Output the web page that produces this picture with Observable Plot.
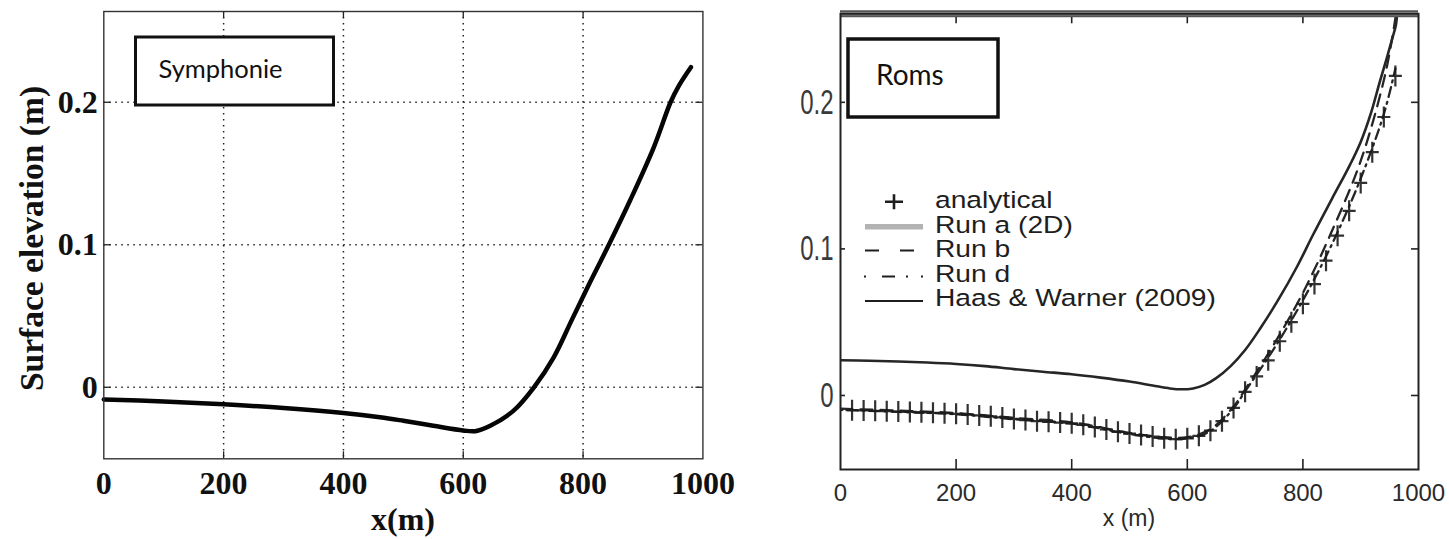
<!DOCTYPE html>
<html><head><meta charset="utf-8">
<script src="https://cdn.jsdelivr.net/npm/d3@7"></script>
<script src="https://cdn.jsdelivr.net/npm/@observablehq/plot@0.6"></script>
<style>
html,body{margin:0;padding:0;background:#fff;}
#wrap{position:relative;width:1449px;height:539px;overflow:hidden;background:#fff;}
#left,#right,#ann{position:absolute;top:0;}
#left{left:0;} #right{left:720px;} #ann{left:0;pointer-events:none;}
</style></head>
<body><div id="wrap"><div id="left"></div><div id="right"></div><svg id="ann" width="1449" height="539"></svg></div>
<script>
// ---------- tick values / labels ----------
const xTicks = [0, 200, 400, 600, 800, 1000];
const xTickLabels = ["0", "200", "400", "600", "800", "1000"];
const xInner = [200, 400, 600, 800];
const yTicks = [0, 0.1, 0.2];
const yTickLabels = ["0", "0.1", "0.2"];

// ---------- left panel: Symphonie ----------
const symX = [0, 100, 200, 300, 400, 461, 500, 550, 600, 620, 645, 684, 718, 751, 782, 812, 843, 879, 918, 946, 960, 980];
const symY = [-0.0085, -0.0100, -0.0120, -0.0145, -0.0180, -0.0210, -0.0235, -0.0270, -0.0303, -0.0308, -0.0270, -0.0164, 0.0000, 0.0210, 0.0480, 0.0740, 0.1000, 0.1316, 0.1684, 0.2000, 0.2117, 0.2246];

// ---------- right panel: ROMS ----------
const anaX = [20,40,60,80,100,120,140,160,180,200,220,240,260,280,300,320,340,360,380,400,420,440,460,480,500,520,540,560,580,600,620,640,660,680,700,720,740,760,780,800,820,840,860,880,900,920,940,960];
const anaY = [-0.0100,-0.0102,-0.0105,-0.0107,-0.0110,-0.0112,-0.0115,-0.0118,-0.0121,-0.0125,-0.0130,-0.0136,-0.0142,-0.0150,-0.0160,-0.0168,-0.0175,-0.0180,-0.0185,-0.0190,-0.0200,-0.0215,-0.0232,-0.0248,-0.0260,-0.0270,-0.0280,-0.0292,-0.0298,-0.0292,-0.0275,-0.0240,-0.0175,-0.0085,0.0025,0.0130,0.0240,0.0370,0.0500,0.0625,0.0760,0.0920,0.1090,0.1260,0.1450,0.1660,0.1900,0.2180];

const runbX = [0, 100, 200, 300, 400, 500, 560, 600, 640, 680, 700, 750, 800, 850, 900, 940, 955, 961];
const runbY = [-0.0090, -0.0103, -0.0120, -0.0153, -0.0183, -0.0255, -0.0285, -0.0285, -0.0230, -0.0075, 0.0040, 0.0350, 0.0700, 0.1120, 0.1600, 0.2150, 0.2450, 0.2600];

const rundX = [0, 100, 200, 300, 400, 500, 560, 600, 640, 680, 700, 750, 800, 850, 900, 940, 960];
const rundY = [-0.0098, -0.0112, -0.0128, -0.0162, -0.0192, -0.0263, -0.0294, -0.0293, -0.0242, -0.0088, 0.0028, 0.0320, 0.0650, 0.1030, 0.1480, 0.1920, 0.2230];

const haasX = [0, 50, 100, 150, 200, 250, 300, 350, 400, 450, 500, 540, 570, 590, 610, 630, 650, 675, 700, 725, 757, 790, 818, 850, 881, 900, 918, 933, 945, 955, 961, 963];
const haasY = [0.0240, 0.0237, 0.0232, 0.0225, 0.0215, 0.0200, 0.0180, 0.0162, 0.0145, 0.0122, 0.0095, 0.0068, 0.0048, 0.0042, 0.0048, 0.0072, 0.0118, 0.0200, 0.0310, 0.0450, 0.0650, 0.0880, 0.1100, 0.1340, 0.1570, 0.1730, 0.1930, 0.2140, 0.2300, 0.2440, 0.2530, 0.2600];

const legendLabels = ["analytical", "Run a (2D)", "Run b", "Run d", "Haas & Warner (2009)"];
const panelTitles = ["Symphonie", "Roms"];

const rows = (xs, ys) => xs.map((x, i) => ({x, y: ys[i]}));
const sym = rows(symX, symY), ana = rows(anaX, anaY), runb = rows(runbX, runbY), rund = rows(rundX, rundY), haas = rows(haasX, haasY);
const fmtX = d => xTickLabels[xTicks.indexOf(d)];
const fmtY = d => yTickLabels[yTicks.indexOf(d)];

// stroked "+" marker
const plusSym = {draw(ctx) { const w = 6.5, h = 10.5; ctx.moveTo(-w, 0); ctx.lineTo(w, 0); ctx.moveTo(0, -h); ctx.lineTo(0, h); }};

const num = v => (v != null && /^-?[\d.]+$/.test(v)) ? +v : 0;
function stretch(root, sel, sx, sy) {
  root.querySelectorAll(sel).forEach(t => {
    const x = num(t.getAttribute("x")), y = num(t.getAttribute("y"));
    const tr = t.getAttribute("transform") || "";
    t.setAttribute("transform", `${tr} translate(${x},${y}) scale(${sx},${sy}) translate(${-x},${-y})`);
  });
}

// ---------- left plot ----------
const LM = {t: 11, r: 17.6, b: 80.7, l: 103.3};
const LW = 720, LH = 539;
const lfH = LH - LM.t - LM.b, lfW = LW - LM.l - LM.r;
const dotted = {stroke: "#222", strokeWidth: 1.5, strokeDasharray: "1.5,4.5"};
const tk = {stroke: "#222", strokeWidth: 1.3};
const leftPlot = Plot.plot({
  width: LW, height: LH, marginTop: LM.t, marginRight: LM.r, marginBottom: LM.b, marginLeft: LM.l,
  x: {domain: [0, 1000]},
  y: {domain: [-0.0502, 0.2637]},
  style: {background: "transparent", overflow: "visible", fontFamily: "'Liberation Serif','Times New Roman',serif", fontWeight: "bold", fontSize: "32px", color: "#111"},
  marks: [
    Plot.ruleX(xInner, dotted),
    Plot.ruleY(yTicks, dotted),
    Plot.line(sym, {x: "x", y: "y", stroke: "#050505", strokeWidth: 4.5, curve: "catmull-rom"}),
    Plot.ruleX(xInner, {...tk, insetBottom: lfH - 7}),
    Plot.ruleX(xInner, {...tk, insetTop: lfH - 7}),
    Plot.ruleY(yTicks, {...tk, insetRight: lfW - 7}),
    Plot.ruleY(yTicks, {...tk, insetLeft: lfW - 7}),
    Plot.frame({stroke: "#333", strokeWidth: 1.4}),
    Plot.axisX(xTicks, {tickSize: 0, tickPadding: 12, label: null, tickFormat: fmtX}),
    Plot.axisY(yTicks, {tickSize: 0, tickPadding: 6, label: null, tickFormat: fmtY})
  ]
});
document.getElementById("left").appendChild(leftPlot);

// ---------- right plot ----------
const RM = {t: 13.3, r: 31, b: 70, l: 120};
const RW = 729, RH = 539;
const rfH = RH - RM.t - RM.b, rfW = RW - RM.l - RM.r;
const yDomR = [-0.0505, 0.2604];
const tk2 = {stroke: "#222", strokeWidth: 1.6};
const rightPlot = Plot.plot({
  width: RW, height: RH, marginTop: RM.t, marginRight: RM.r, marginBottom: RM.b, marginLeft: RM.l,
  x: {domain: [0, 1000]},
  y: {domain: yDomR},
  style: {background: "transparent", overflow: "visible", fontFamily: "'Liberation Sans',Arial,sans-serif", fontSize: "24px", color: "#2a2a2a"},
  marks: [
    Plot.line(haas, {x: "x", y: "y", stroke: "#262626", strokeWidth: 2.6, curve: "catmull-rom", clip: true}),
    Plot.line(runb, {x: "x", y: "y", stroke: "#262626", strokeWidth: 2.3, strokeDasharray: "12,8", curve: "catmull-rom", clip: true}),
    Plot.line(rund, {x: "x", y: "y", stroke: "#262626", strokeWidth: 2.3, strokeDasharray: "2,5,10,5", curve: "catmull-rom", clip: true}),
    Plot.dot(ana, {x: "x", y: "y", symbol: plusSym, stroke: "#1c1c1c", strokeWidth: 2.2, fill: "none", strokeOpacity: 0.9}),
    Plot.ruleX(xInner, {...tk2, insetBottom: rfH - 10}),
    Plot.ruleX(xInner, {...tk2, insetTop: rfH - 10}),
    Plot.ruleY(yTicks, {...tk2, insetRight: rfW - 5}),
    Plot.ruleY(yTicks, {...tk2, insetLeft: rfW - 7}),
    Plot.ruleY([yDomR[1]], {stroke: "#555", strokeWidth: 7}),
    Plot.ruleY([yDomR[1]], {stroke: "#a3a3a3", strokeWidth: 3}),
    Plot.frame({stroke: "#222", strokeWidth: 2}),
    Plot.axisX(xTicks, {tickSize: 0, tickPadding: 14, label: null, tickFormat: fmtX}),
    Plot.axisY(yTicks, {tickSize: 0, tickPadding: 7, label: null, fill: "#3a3a3a", tickFormat: fmtY})
  ]
});
stretch(rightPlot, '[aria-label="y-axis tick label"] text', 1, 1.5);
document.getElementById("right").appendChild(rightPlot);

// ---------- annotations: titles, boxes, legend ----------
const ann = d3.select("#ann");
const serif = "'Liberation Serif','Times New Roman',serif";
const sans = "'Liberation Sans',Arial,sans-serif";
ann.append("text").attr("transform", "translate(31,238.5) rotate(-90)").attr("text-anchor", "middle").attr("dy", "0.35em")
  .attr("font-family", serif).attr("font-weight", "bold").attr("font-size", 33.5).attr("fill", "#111").text("Surface elevation (m)");
ann.append("text").attr("x", 403).attr("y", 530).attr("text-anchor", "middle")
  .attr("font-family", serif).attr("font-weight", "bold").attr("font-size", 32).attr("fill", "#111").text("x(m)");
ann.append("text").attr("x", 1129).attr("y", 526).attr("text-anchor", "middle")
  .attr("font-family", sans).attr("font-size", 23).attr("fill", "#2a2a2a").text("x (m)");

// title boxes
ann.append("rect").attr("x", 135.5).attr("y", 37).attr("width", 198).attr("height", 68).attr("fill", "#fff").attr("stroke", "#111").attr("stroke-width", 3);
ann.append("text").attr("x", 158.5).attr("y", 78).attr("font-family", "Lato, 'Open Sans', sans-serif").attr("font-size", 25.5).attr("fill", "#111").text(panelTitles[0]);
ann.append("rect").attr("x", 848).attr("y", 39).attr("width", 150).attr("height", 78).attr("fill", "#fff").attr("stroke", "#111").attr("stroke-width", 3.5);
ann.append("text").attr("x", 876).attr("y", 85).attr("font-family", "Lato, 'Open Sans', sans-serif").attr("font-size", 28).attr("fill", "#111").text(panelTitles[1]);

// legend
const legY = [208.3, 232.8, 257.3, 281.8, 306.3];
legendLabels.forEach((lab, i) => {
  ann.append("text").attr("transform", `translate(935,${legY[i]}) scale(1.2,1)`)
    .attr("font-family", sans).attr("font-size", 23.5).attr("fill", "#1e1e1e").text(lab);
});
const g = ann.append("g").attr("fill", "none");
g.append("path").attr("d", "M885,201.7H903M894,194.2V209.2").attr("stroke", "#1e1e1e").attr("stroke-width", 2.6);
g.append("path").attr("d", "M865,226.7H923").attr("stroke", "#b3b3b3").attr("stroke-width", 5.5);
g.append("path").attr("d", "M865,250.5H918").attr("stroke", "#1e1e1e").attr("stroke-width", 2.2).attr("stroke-dasharray", "14,21");
g.append("path").attr("d", "M864,276.5H923").attr("stroke", "#1e1e1e").attr("stroke-width", 2.2).attr("stroke-dasharray", "2,16,13,11,2,13,2");
g.append("path").attr("d", "M865,301H923").attr("stroke", "#1e1e1e").attr("stroke-width", 2.2);
</script>
</body></html>
